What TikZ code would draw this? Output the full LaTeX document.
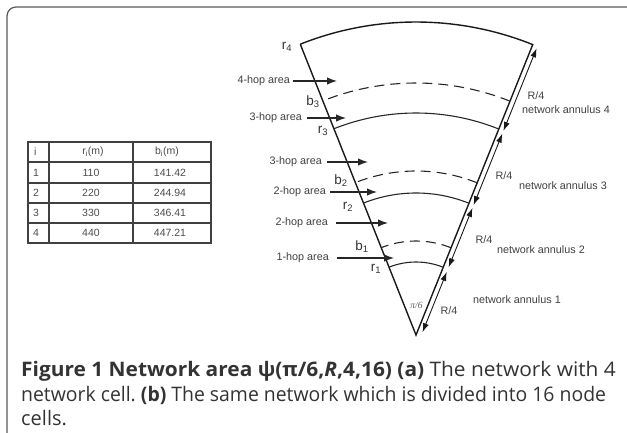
\documentclass[tikz,border=0pt]{standalone}
\usepackage{fontspec}
\setmainfont{Liberation Sans}
\newfontfamily\capfont{Open Sans}
\newfontfamily\piserif{Liberation Serif}
\usetikzlibrary{arrows.meta,calc}
\frenchspacing
\begin{document}
\begin{tikzpicture}[x=1pt,y=1pt,
  lab/.style={font=\fontsize{10.8}{12}\selectfont, text=black!75, inner sep=0pt},
  rlab/.style={font=\fontsize{13.5}{15}\selectfont, text=black!80, inner sep=0pt},
  tabtext/.style={font=\fontsize{10.5}{12}\selectfont, text=black!70, inner sep=0pt},
  tline/.style={line width=1.1pt, black!75},
  wedgeline/.style={line width=1.4pt, black!90},
  arcline/.style={line width=1.1pt, black!85},
  dasharc/.style={arcline, dash pattern=on 10pt off 6pt},
  hop/.style={line width=1.3pt, black!85, -{Latex[length=10pt,width=7.5pt]}},
  dimarrow/.style={line width=0.9pt, black!90, {Latex[length=9pt,width=6pt]}-{Latex[length=9pt,width=6pt]}},
  captext/.style={font=\capfont\fontsize{20}{23}\selectfont, text=black!80, inner sep=0pt, anchor=base west},
]
\useasboundingbox (0,0) rectangle (627,432);
\draw[line width=1.2pt, black!65, rounded corners=9pt] (7,-20) -- (7,425) -- (650,425);

% table
\draw[tline] (28,290) rectangle (211,189);
\foreach \yy in {270,249,229,209} \draw[tline] (28,\yy) -- (211,\yy);
\draw[tline] (49,290) -- (49,189);
\draw[tline] (133,290) -- (133,189);
\node[tabtext, anchor=west] (ti) at (34,280) {i};
\node[tabtext] (tr) at (93,280) {r\textsubscript{i}(m)};
\node[tabtext] (tb) at (167,280) {b\textsubscript{i}(m)};
\foreach \n/\yy/\ra/\ba in {1/259.5/110/141.42, 2/239/220/244.94, 3/219/330/346.41, 4/199/440/447.21}{
  \node[tabtext, anchor=west] (ti\n) at (33,\yy) {\n};
  \node[tabtext] (tr\n) at (91,\yy) {\ra};
  \node[tabtext] (tb\n) at (170,\yy) {\ba};
}

% wedge
\coordinate (A) at (416,97);
\coordinate (L) at ($(A)+(111.7:313)$);
\coordinate (Rt) at ($(A)+(68.1:313)$);
\draw[wedgeline] (L) -- (A) -- (Rt) arc[start angle=68.1, end angle=111.7, radius=313];
\foreach \r in {73,142,222}
  \draw[arcline] ($(A)+(68.1:\r)$) arc[start angle=68.1, end angle=111.7, radius=\r];
\foreach \r in {94,164,252}
  \draw[dasharc] ($(A)+(68.1:\r)$) arc[start angle=68.1, end angle=111.7, radius=\r];

% R/4 dimension arrows
\foreach \a/\b [count=\k] in {5/70, 75/139, 142/219, 222/311}{
  \coordinate (d\k a) at ($(A)+(68.1:\a)+(-21.9:5)$);
  \coordinate (d\k b) at ($(A)+(68.1:\b)+(-21.9:5)$);
  \draw[dimarrow] (d\k a) -- (d\k b);
}

% radius labels
\node[rlab] (r4) at (287,385) {r\textsubscript{4}};
\node[rlab] (b3) at (313,330) {b\textsubscript{3}};
\node[rlab] (r3) at (323,301) {r\textsubscript{3}};
\node[rlab] (b2) at (341,251) {b\textsubscript{2}};
\node[rlab] (r2) at (348,225) {r\textsubscript{2}};
\node[rlab] (b1) at (362,185) {b\textsubscript{1}};
\node[rlab] (r1) at (376,163) {r\textsubscript{1}};
\node[font=\piserif\itshape\fontsize{9.5}{11}\selectfont, text=black!65, inner sep=0pt] (ang) at (416.5,127) {π/6};

% hop labels
\node[lab, anchor=east] (h4) at (290,351) {4-hop area};
\coordinate (h4e) at (337,351);
\draw[hop] ([xshift=3pt]h4.east) -- (h4e);
\node[lab, anchor=east] (h3a) at (302,314) {3-hop area};
\coordinate (h3ae) at (346,314);
\draw[hop] ([xshift=5pt]h3a.east) -- (h3ae);
\node[lab, anchor=east] (h3b) at (322,270) {3-hop area};
\coordinate (h3be) at (368,270);
\draw[hop] ([xshift=5pt]h3b.east) -- (h3be);
\node[lab, anchor=east] (h2a) at (326,240) {2-hop area};
\coordinate (h2ae) at (377,240);
\draw[hop] ([xshift=4pt]h2a.east) -- (h2ae);
\node[lab, anchor=east] (h2b) at (328,209) {2-hop area};
\coordinate (h2be) at (388,209);
\draw[hop] ([xshift=8pt]h2b.east) -- (h2be);
\node[lab, anchor=east] (h1) at (329,174) {1-hop area};
\coordinate (h1e) at (394,174);
\draw[hop] ([xshift=8pt]h1.east) -- (h1e);

% right labels
\node[lab] (q4) at (536,336) {R/4};
\node[lab] (n4) at (566,322) {network annulus 4};
\node[lab] (q3) at (504,256) {R/4};
\node[lab] (n3) at (563,246) {network annulus 3};
\node[lab] (q2) at (484,192) {R/4};
\node[lab] (n2) at (541,182) {network annulus 2};
\node[lab] (n1) at (517,132) {network annulus 1};
\node[lab] (q1) at (449,121) {R/4};

% caption
\node[captext] (c1) at (21,56) {\scalebox{1.044}[1]{\textbf{Figure 1 Network area ψ(π/6,\textit{R},4,16) (a)} The network with 4}};
\node[captext] (c2) at (21,31) {\scalebox{0.97}[1]{network cell. \textbf{(b)} The same network which is divided into 16 node}};
\node[captext] (c3) at (21,7) {cells.};
\end{tikzpicture}
\end{document}
